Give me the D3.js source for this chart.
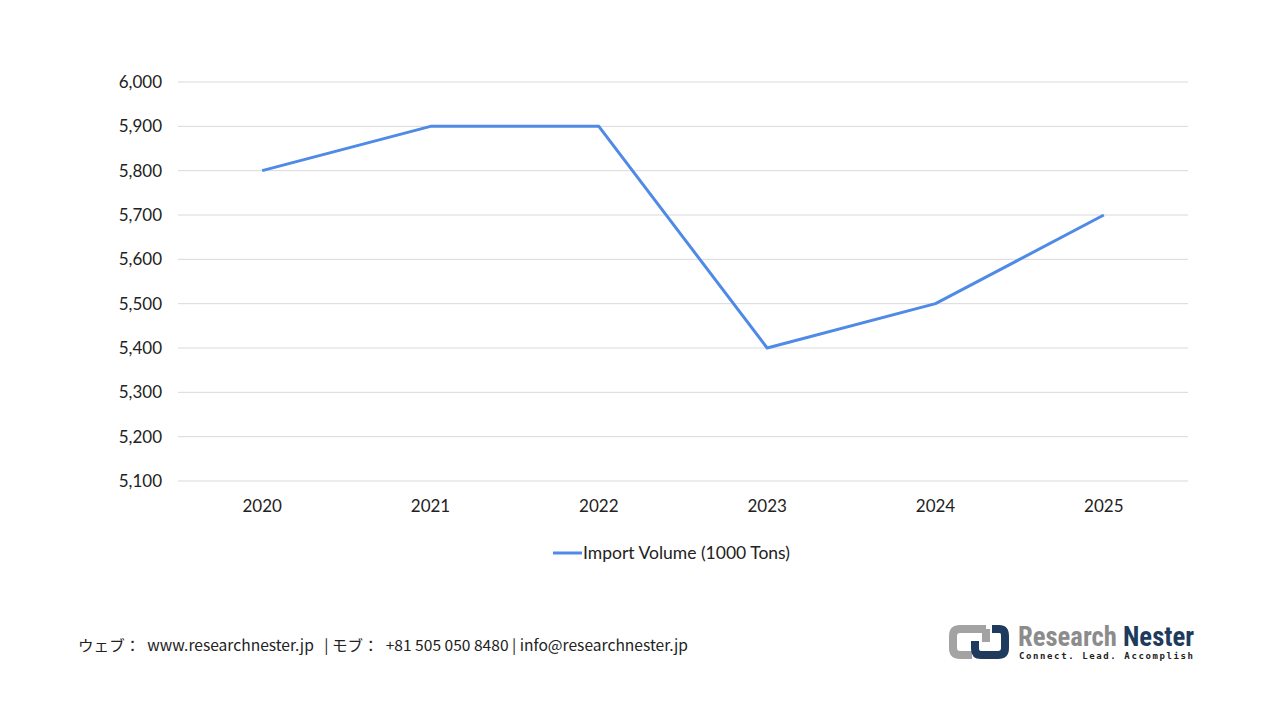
<!DOCTYPE html>
<html>
<head>
<meta charset="utf-8">
<script src="https://cdn.jsdelivr.net/npm/d3@7"></script>
<style>
    body { margin: 0; background: #fff; }
    #chart { width: 1280px; height: 720px; }
    text { font-family: Lato, "Noto Sans", sans-serif; fill: #222; }
</style>
</head>
<body>
<div id="chart"></div>
<script>
// chart data
const years = ["2020", "2021", "2022", "2023", "2024", "2025"];
const importVolume = [5800, 5900, 5900, 5400, 5500, 5700];
const yTicks = [5100, 5200, 5300, 5400, 5500, 5600, 5700, 5800, 5900, 6000];
const seriesName = "Import Volume (1000 Tons)";
const footerText = "ウェブ：  www.researchnester.jp   | モブ：  +81 505 050 8480 | info@researchnester.jp";

const lineColor = "#4f8ae6";

let svg = d3.select("#chart").append("svg")
    .attr("width", 1280)
    .attr("height", 720);

// scales
let x = d3.scaleBand().domain(years).range([178, 1188]);
let y = d3.scaleLinear().domain([5100, 6000]).range([481, 82]);

// gridlines
svg.append("g")
    .selectAll("line")
    .data(yTicks)
    .enter()
    .append("line")
    .attr("x1", 178)
    .attr("x2", 1188)
    .attr("y1", d => y(d))
    .attr("y2", d => y(d))
    .attr("stroke", "#d9d9d9")
    .attr("stroke-width", 1);

// y axis labels
let yAxis = svg.append("g")
    .attr("transform", "translate(162,0)")
    .call(d3.axisLeft(y).tickValues(yTicks).tickFormat(d3.format(",")).tickSize(0).tickPadding(0));
yAxis.select(".domain").remove();
yAxis.selectAll("text")
    .style("font-size", "17px")
    .attr("fill", "#222");

// x axis labels
let xAxis = svg.append("g")
    .attr("transform", "translate(0,498)")
    .call(d3.axisBottom(x).tickSize(0).tickPadding(0));
xAxis.select(".domain").remove();
xAxis.selectAll("text")
    .style("font-size", "17px")
    .attr("dy", "0.8em")
    .attr("fill", "#222");

// line
let line = d3.line()
    .x((d, i) => x(years[i]) + x.bandwidth() / 2)
    .y(d => y(d));

svg.append("path")
    .datum(importVolume)
    .attr("d", line)
    .attr("fill", "none")
    .attr("stroke", lineColor)
    .attr("stroke-width", 3)
    .attr("stroke-linejoin", "round");

// legend
let legend = svg.append("g").attr("transform", "translate(553,553)");
legend.append("line")
    .attr("x1", 0).attr("x2", 29)
    .attr("stroke", lineColor)
    .attr("stroke-width", 3);
legend.append("text")
    .attr("x", 30)
    .attr("dy", "0.35em")
    .style("font-size", "17px")
    .attr("textLength", 207)
    .attr("lengthAdjust", "spacingAndGlyphs")
    .text(seriesName);

// footer
svg.append("text")
    .attr("x", 78)
    .attr("y", 651)
    .attr("xml:space", "preserve")
    .style("white-space", "pre")
    .style("font-size", "15px")
    .style("font-family", "'Noto Sans CJK JP', Lato, sans-serif")
    .attr("fill", "#222")
    .attr("textLength", 610)
    .attr("lengthAdjust", "spacingAndGlyphs")
    .text(footerText);

// logo
let logo = svg.append("g").attr("transform", "translate(948,622)");
logo.append("path")
    .attr("d", "M38,7 H12 Q5,7 5,14 V26 Q5,33 12,33 H24")
    .attr("fill", "none")
    .attr("stroke", "#a3a3a3")
    .attr("stroke-width", 8);
logo.append("path")
    .attr("d", "M38,7 V20")
    .attr("fill", "none")
    .attr("stroke", "#a3a3a3")
    .attr("stroke-width", 8);
logo.append("path")
    .attr("d", "M44,7 H51 Q57,7 57,14 V26 Q57,33 50,33 H33 Q27,33 27,27 V19")
    .attr("fill", "none")
    .attr("stroke", "#1e3a5c")
    .attr("stroke-width", 8);
logo.append("text")
    .attr("x", 70)
    .attr("y", 24)
    .style("font-family", "'Liberation Sans Narrow', 'Roboto Condensed', 'Liberation Sans', sans-serif")
    .style("font-size", "27px")
    .style("font-weight", "bold")
    .attr("textLength", 176)
    .attr("lengthAdjust", "spacingAndGlyphs")
    .html("<tspan fill='#8c8c8c'>Research </tspan><tspan fill='#1e3a5c'>Nester</tspan>");
logo.append("text")
    .attr("x", 71)
    .attr("y", 37)
    .style("font-family", "'DejaVu Sans Mono', monospace")
    .style("font-size", "9px")
    .style("font-weight", "bold")
    .attr("fill", "#1e3a5c")
    .attr("textLength", 174)
    .attr("lengthAdjust", "spacing")
    .text("Connect. Lead. Accomplish");
</script>
</body>
</html>
